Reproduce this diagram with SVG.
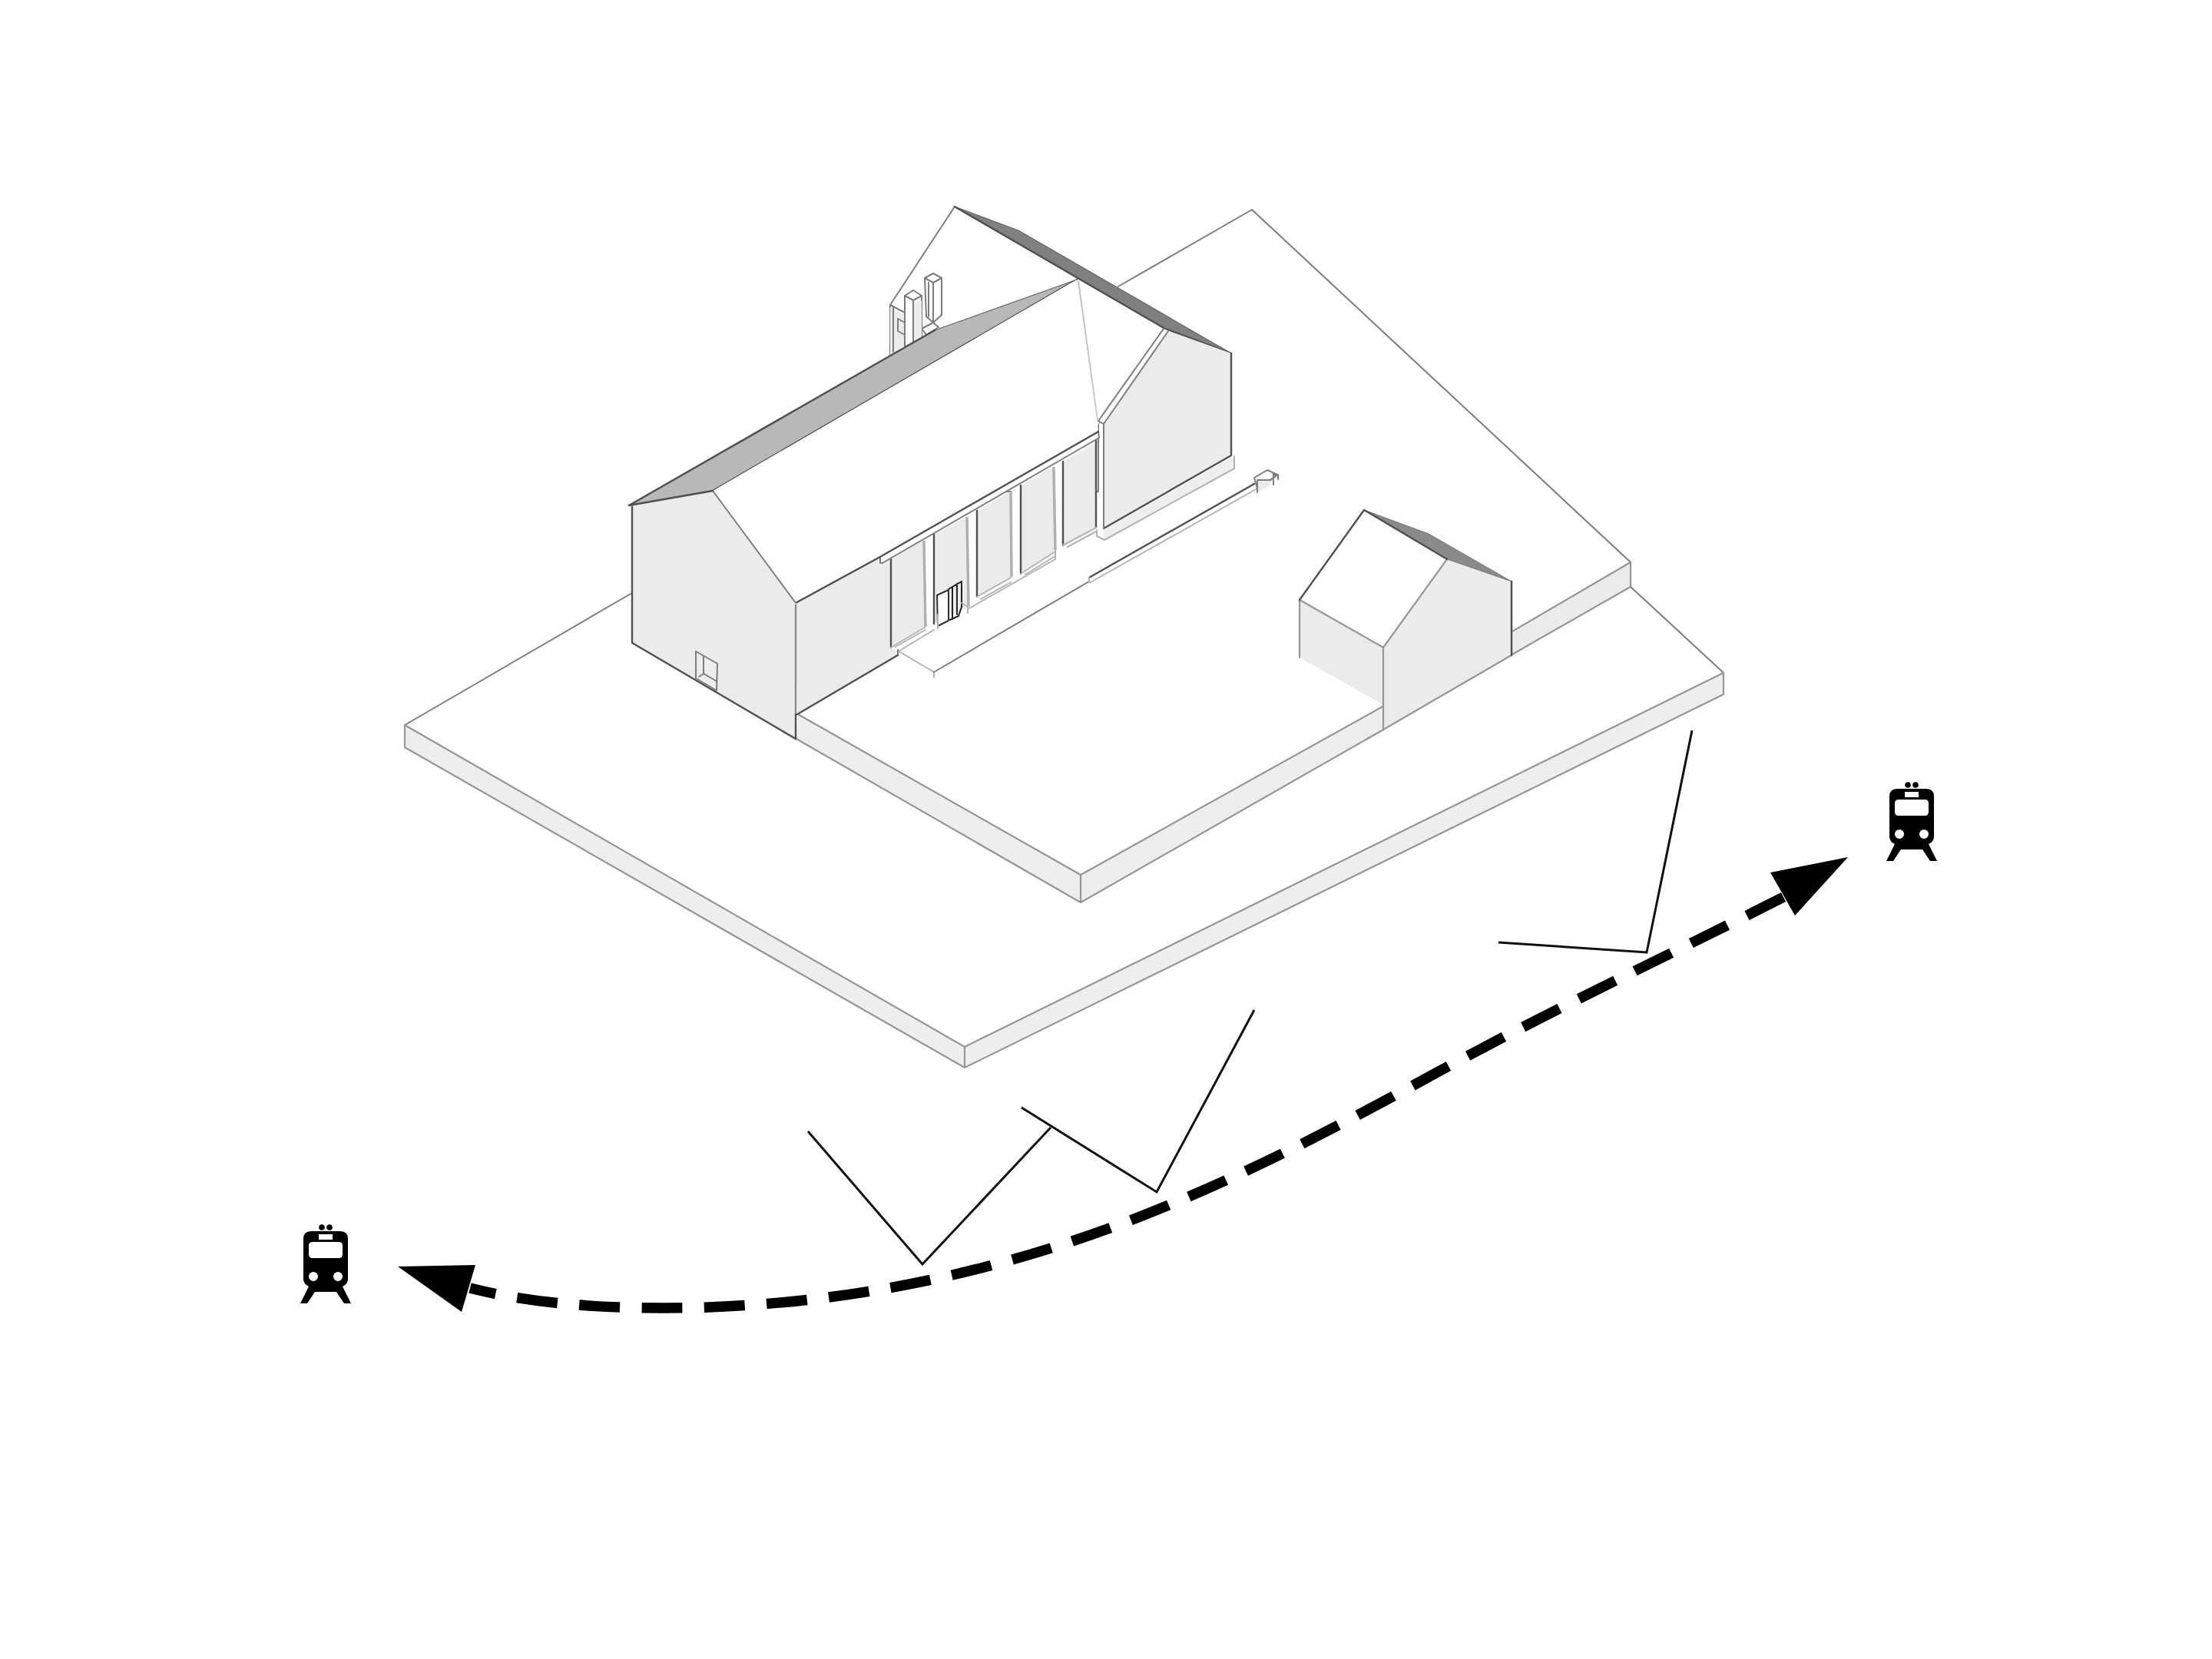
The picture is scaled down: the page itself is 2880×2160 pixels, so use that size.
<svg xmlns="http://www.w3.org/2000/svg" xmlns:xlink="http://www.w3.org/1999/xlink" width="2880" height="2160" viewBox="0 0 2880 2160">
<style>
.w{fill:#fff}.g{fill:#ebebeb}.n{fill:none}
.l{stroke:#7d7d7d;stroke-width:2;stroke-linejoin:round;stroke-linecap:round}
.p{stroke:#969696;stroke-width:2.2;stroke-linejoin:round;stroke-linecap:round}
.d{stroke:#505050;stroke-width:2.4;stroke-linejoin:round;stroke-linecap:round}
.f{stroke:#b4b4b4;stroke-width:2;stroke-linejoin:round;stroke-linecap:round}
.k{fill:none;stroke:#111;stroke-width:3;stroke-linejoin:miter}
</style>
<defs>
<g id="train">
<circle cx="419" cy="1598" r="3.8"/><circle cx="429" cy="1598" r="3.8"/>
<path fill-rule="evenodd" d="M405 1603H443Q453 1603 453 1613V1665Q453 1672 446 1675L457 1697H448L438 1682H410L400 1697H391L402 1675Q395 1672 395 1665V1613Q395 1603 405 1603Z
M415 1607V1614H433V1607Z
M407 1617Q402 1617 402 1622V1633Q402 1638 407 1638H441Q446 1638 446 1633V1622Q446 1617 441 1617Z
M402 1662A6 6 0 1 0 414 1662A6 6 0 1 0 402 1662Z
M434 1662A6 6 0 1 0 446 1662A6 6 0 1 0 434 1662Z"/>
</g>
</defs>
<rect width="2880" height="2160" fill="#fff"/>

<g id="lower-site">
<path class="w" d="M823 772L527 944L1256 1363L2244 876L2123 764Z"/>
<path class="n l" d="M823 772L527 944M2244 876L2123 764"/>
<path style="fill:#eeeeee" d="M527 944V973L1256 1390L2244 904V876L1256 1363Z"/>
<path class="n p" d="M527 944L1256 1363L2244 876M527 973L1256 1390L2244 904V876M1256 1363V1390M527 944V973"/>
</g>

<g id="upper-site">
<path class="w" d="M1456 373L1630 273L2123 732V764L1801 950L1407 1175L1037 962V600Z"/>
<path class="n l" d="M1456 373L1630 273L2123 732"/>
<path class="g" d="M2123 732V764L1969 852V822Z"/>
<path class="n p" d="M1969 822L2123 732V764L1969 852"/>
<path style="fill:#eeeeee" d="M1039 930L1407 1139L1800 920V950L1407 1175L1037 962Z"/>
<path class="n p" d="M1039 930L1407 1139L1800 920M1037 962L1407 1175L1801 950M1407 1139V1175"/>
</g>

<g id="rear-wing">
<path class="w l" d="M1159 460V397L1243 269L1517 428L1430 552V640H1200Z"/>
<path class="g" d="M1159 400L1178 410V450L1159 462Z"/>
<path class="n l" d="M1159 397L1178 407M1169 415V431L1178 436M1169 415L1178 420M1163 401V458"/>
<g id="chimneys">
<path class="w l" d="M1204 362L1215 356L1226 362V410L1215 420L1206 412Z"/>
<path class="n l" d="M1204 362L1215 368L1226 362M1215 368V418M1209 368V412"/>
<path class="w l" d="M1200 428L1215 420L1222 426L1206 436Z"/>
<path class="w l" d="M1178 385L1189 378L1200 385V440L1178 452Z"/>
<path class="g" d="M1189 392H1200V440L1189 446Z"/>
<path class="n l" d="M1178 385L1189 391L1200 385M1189 391V446"/>
</g>
<path class="w" d="M1402 364L1517 428L1430 552L1410 600H1300Z"/>
<path d="M1243 269L1326 300L1603 460L1517 428Z" fill="#808080" stroke="#666" stroke-width="1.2" stroke-linejoin="round"/>
<path class="n d" d="M1243 269L1517 428L1603 460"/>
<path class="g" d="M1519 430L1603 460V593L1437 688V552Z"/>
<path class="w" d="M1515 428L1521 431L1437 555L1430 548Z"/>
<path class="n l" d="M1515 428L1430 548L1437 552L1521 431M1437 555V688"/>
<path class="n d" d="M1437 688L1603 593V460"/>
<path style="fill:#eeeeee" d="M1437 690L1606 594L1607 610L1438 703Z"/>
<path class="n f" d="M1438 703L1607 610V594M1438 703L1428 698V690"/>
<path class="n" stroke="#c4c4c4" stroke-width="2" d="M1404 366L1429 548"/>
</g>

<g id="entrance-glazing">
<path class="g" d="M1036 785L1146 725L1160 728V843L1169 846V853L1038 930Z"/>
<path class="w" d="M1160 728L1428 577V690L1170 848L1160 843Z"/>
<path class="g" d="M1160 728L1202 704L1204 817L1160 843Z"/>
<path class="g" d="M1216 696L1258 673L1260 791L1216 812Z"/>
<path class="g" d="M1272 665L1315 640L1316 752L1272 777Z"/>
<path class="g" d="M1329 632L1371 608L1374 718L1329 747Z"/>
<path class="g" d="M1384 601L1427 576V687L1384 710Z"/>
<path class="n" stroke="#b0b0b0" stroke-width="3.5" d="M1203 704L1205 816M1259 673L1261 790M1316 640L1317 751M1372 608L1374 716"/>
<path class="n d" d="M1160 728V843M1216 696V812M1272 665V777M1329 632V747M1384 601V710M1427 573V687"/>
<path class="n f" d="M1160 843L1204 817M1166 842L1205 820M1272 777L1316 752M1277 780L1316 758M1329 747L1374 718M1335 748L1374 724M1384 710L1427 687M1390 712L1427 692"/>
<path class="n f" d="M1170 848L1216 820M1262 792L1374 728V716"/>
<path class="w" d="M1146 725L1430 562L1431 570L1149 733Z"/>
<path class="n l" d="M1149 733L1431 570L1430 562M1146 725V733L1149 733"/>
<path class="n l" d="M1437 552V688"/>
<g id="door">
<path class="n d" style="stroke:#222;stroke-width:2" d="M1235 767L1252 757V790L1248 802L1237 807M1246 760V800M1240 764V806"/>
<path class="w d" style="stroke:#333;stroke-width:2" d="M1220 775L1235 768V808L1221 815Z"/>
<path class="n f" d="M1221 800V818M1252 785L1260 790V798"/>
</g>
<path class="n f" d="M1170 848L1216 875V882"/>
<path class="n l" d="M1216 875L1418 757"/>
<path class="n d" d="M1418 752L1633 630"/>
<path class="n f" d="M1418 752V757L1420 758L1637 636"/>
<path class="w l" d="M1633 622L1650 612L1663 618L1654 625L1637 636Z"/>
<path class="g" d="M1638 626L1654 626V632L1638 640Z"/>
<path class="n l" d="M1637 625L1654 625L1663 618M1637 625V641M1658 617V631M1658 618L1664 618V624"/>
</g>

<g id="main-roof">
<path d="M819 658L1217 430L1402 364L928 639Z" fill="#b8b8b8" stroke="#666" stroke-width="1.2" stroke-linejoin="round"/>
<path class="n d" d="M819 658L1217 430M928 639L1402 364"/>
<path class="w" d="M928 639L1402 364L1430 560L1146 725L1036 785Z"/>
<path class="n d" d="M1036 785L1146 725L1430 562"/>
</g>

<g id="main-gable">
<path class="g" d="M823 660L819 658L928 639L1036 785V962L823 837Z"/>
<path class="n l" d="M928 639L1036 785"/>
<path class="n d" d="M819 658L928 639M823 660V837L1036 962"/>
<path class="n" stroke="#8a8a8a" stroke-width="2.4" d="M1036 787V930"/>
<path class="n d" d="M1036 930V962"/>
<path class="n l" d="M1169 853V846"/>
<path class="n d" d="M1038 930L1169 853"/>
<path style="fill:#ededed" d="M906 848L934 864L933 899L906 883Z"/>
<path class="n l" d="M906 848L934 864L933 899L906 883ZM916 854V877L933 887M917 877L910 881"/>
</g>

<g id="small-house">
<path class="g" d="M1692 781L1801 843V950L1800 917L1692 856Z"/>
<path class="w" d="M1692 781L1776 664L1884 728L1801 843Z"/>
<path class="g" d="M1884 728L1968 757V853L1801 950V843Z"/>
<path d="M1776 664L1860 695L1968 757L1884 728Z" fill="#8a8a8a" stroke="#777" stroke-width="1" stroke-linejoin="round"/>
<path class="n p" d="M1692 781V856M1692 781L1801 843L1884 728M1801 843V950L1968 853"/>
<path class="n d" d="M1692 781L1776 664L1884 728M1968 757V853"/>
</g>

<g id="sketch-lines">
<path class="k" d="M2203 951L2144 1240L1951 1227"/>
<path class="k" d="M1633 1315L1506 1552L1330 1442"/>
<path class="k" d="M1052 1473L1201 1646L1368 1468"/>
</g>

<g id="route">
<path fill="none" stroke="#000" stroke-width="13.5" stroke-dasharray="53 28.4" d="M2322 1168C2160 1250 2000 1325 1855 1405C1700 1490 1550 1565 1396 1616C1220 1675 1040 1703 863 1703C780 1703 690 1697 612 1677"/>
<path d="M2406 1116L2305 1136L2337 1192Z"/>
<path d="M518 1649L619 1647L601 1708Z"/>
</g>

<g id="train-west"><use href="#train"/></g>
<g id="train-east"><use href="#train" transform="translate(2065 -576)"/></g>
</svg>
